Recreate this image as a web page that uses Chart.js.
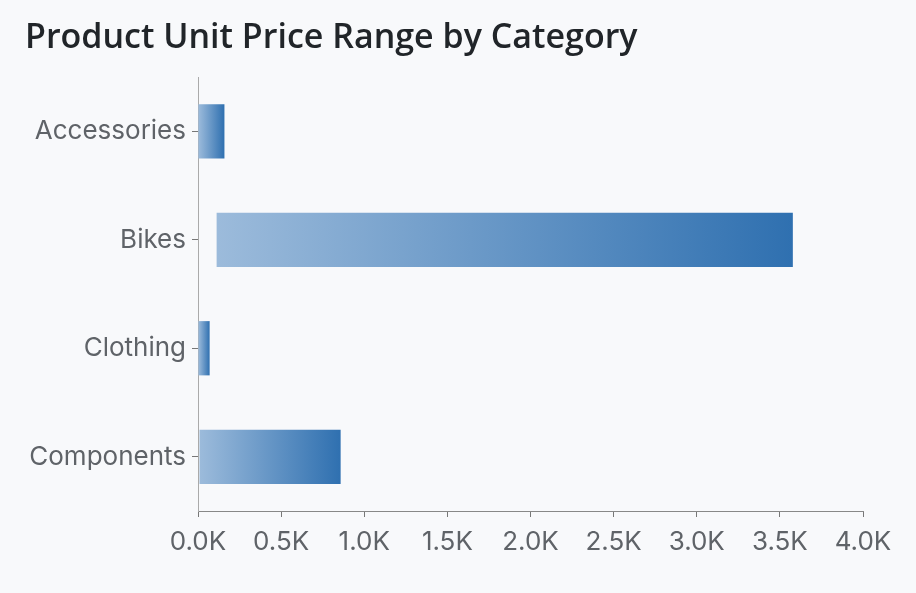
<!DOCTYPE html>
<html>
<head>
<meta charset="utf-8">
<script src="https://cdn.jsdelivr.net/npm/chart.js@4.4.1/dist/chart.umd.min.js"></script>
<style>
  html, body { margin: 0; padding: 0; background: #f8f9fb; }
  #wrap { width: 916px; height: 593px; }
</style>
</head>
<body>
<div id="wrap"><canvas id="c"></canvas></div>
<script>
const categories = ["Accessories", "Bikes", "Clothing", "Components"];
const minPrices = [2.29, 112, 2.5, 9];
const maxPrices = [159, 3578, 70, 858];
const xTickValues = [0, 500, 1000, 1500, 2000, 2500, 3000, 3500, 4000];
const titleText = "Product Unit Price Range by Category";

const ranges = categories.map((c, i) => [minPrices[i], maxPrices[i]]);

const LIGHT = "#9cbbdb";
const DARK = "#2f70b0";

const TITLE_FAMILY = "'Open Sans'";
const TITLE_WEIGHT = "600";
function fitTitleSize(target) {
  const m = document.createElement("canvas").getContext("2d");
  m.font = TITLE_WEIGHT + " 30px " + TITLE_FAMILY;
  const w = m.measureText(titleText).width;
  return Math.max(24, Math.min(34, 30 * target / w));
}

function barGradient(ctx) {
  const chart = ctx.chart;
  const area = chart.chartArea;
  if (!area || ctx.raw == null) return DARK;
  const xs = chart.scales.x;
  const x0 = xs.getPixelForValue(ctx.raw[0]);
  const x1 = xs.getPixelForValue(ctx.raw[1]);
  if (!isFinite(x0) || !isFinite(x1) || x0 === x1) return DARK;
  const g = chart.ctx.createLinearGradient(x0, 0, x1, 0);
  g.addColorStop(0, LIGHT);
  g.addColorStop(1, DARK);
  return g;
}

document.fonts.load(TITLE_WEIGHT + " 30px " + TITLE_FAMILY).finally(() => {
const tSize = fitTitleSize(640);
new Chart(document.getElementById("c"), {
  type: "bar",
  data: {
    labels: categories,
    datasets: [{
      label: "Unit Price Range",
      data: ranges,
      backgroundColor: barGradient,
      borderWidth: 0,
      borderSkipped: false,
      categoryPercentage: 0.5,
      barPercentage: 1.0
    }]
  },
  options: {
    indexAxis: "y",
    responsive: true,
    maintainAspectRatio: false,
    animation: false,
    layout: { padding: { left: 25, right: 53, top: 0, bottom: 0 } },
    plugins: {
      legend: { display: false },
      tooltip: { enabled: false },
      title: {
        display: true,
        text: titleText,
        align: "start",
        color: "#212529",
        font: { family: TITLE_FAMILY, size: tSize, weight: TITLE_WEIGHT, lineHeight: 1.2 },
        padding: { top: 77 - 18 - tSize * 1.2, bottom: 18 }
      }
    },
    scales: {
      x: {
        type: "linear",
        min: 0,
        max: 4000,
        afterBuildTicks: (scale) => { scale.ticks = xTickValues.map(v => ({ value: v })); },
        afterFit: (scale) => { scale.height = 82; },
        ticks: {
          color: "#5f6368",
          font: { family: "Inter", size: 26 },
          padding: 10,
          maxRotation: 0,
          callback: (v) => (v / 1000).toFixed(1) + "K"
        },
        grid: { display: true, drawOnChartArea: false, drawTicks: true, tickLength: 6, color: "#777" },
        border: { display: true, color: "#888", width: 1 }
      },
      y: {
        afterFit: (scale) => { scale.width = 173; },
        ticks: {
          color: "#5f6368",
          font: { family: "Inter", size: 26 },
          padding: 6
        },
        grid: { display: true, offset: false, drawOnChartArea: false, drawTicks: true, tickLength: 6, color: "#777" },
        border: { display: true, color: "#aaa", width: 1 }
      }
    }
  }
});
});
</script>
</body>
</html>
